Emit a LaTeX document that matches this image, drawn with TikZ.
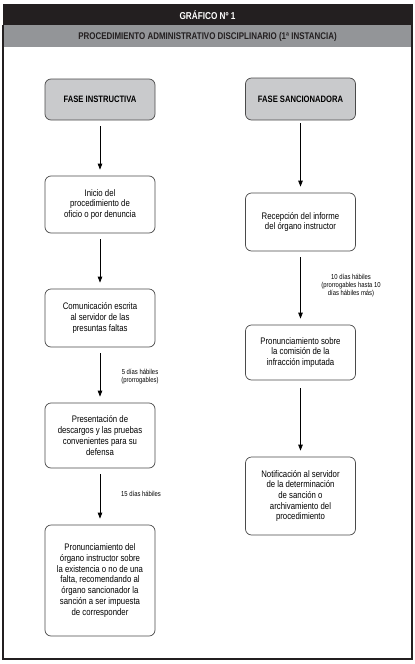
\documentclass[tikz,border=0pt]{standalone}
\usepackage{fontspec}
\setmainfont{Liberation Sans}[FakeStretch=0.82]
\usetikzlibrary{arrows.meta}
\definecolor{barblack}{HTML}{231F20}
\definecolor{bargray}{HTML}{939598}
\definecolor{phasegray}{HTML}{C9CACC}
\definecolor{boxline}{HTML}{4A4A4A}
\begin{document}
\begin{tikzpicture}[x=1pt,y=-1pt,
  stepbox/.style={draw=boxline,line width=0.7pt,rounded corners=6pt,fill=white,
    minimum width=110pt,align=center,font=\fontsize{9.5}{10.7}\selectfont,inner sep=2pt},
  phasebox/.style={stepbox,fill=phasegray,font=\fontsize{9.3}{10}\selectfont\bfseries},
  lbl/.style={align=center,font=\fontsize{7.2}{8.4}\selectfont,inner sep=0pt},
  arr/.style={-{Triangle[length=6pt,width=4.5pt]},line width=0.8pt,black,shorten <=6pt,shorten >=6pt}]
\useasboundingbox (0,0) rectangle (415,664);
% header bars
\fill[barblack] (3,4) rectangle (413,25);
\fill[bargray] (3,25) rectangle (412,47);
\draw[barblack,line width=1.3pt] (3,25) -- (3,659) -- (412,659) -- (412,25);
\node[text=white,font=\fontsize{10}{11}\selectfont\bfseries] (title) at (207.5,15) {GRÁFICO Nº 1};
\node[text=barblack,font=\fontsize{9.7}{11}\selectfont\bfseries] (subtitle) at (207.5,36.5) {PROCEDIMIENTO ADMINISTRATIVO DISCIPLINARIO (1ª INSTANCIA)};
% left column
\node[phasebox,minimum height=41pt] (fi) at (100,99.5) {FASE INSTRUCTIVA};
\node[stepbox,minimum height=57pt] (inicio) at (100,204.5) {Inicio del\\procedimiento de\\oficio o por denuncia};
\node[stepbox,minimum height=58pt] (comun) at (100,318) {Comunicación escrita\\al servidor de las\\presuntas faltas};
\node[stepbox,minimum height=65pt] (pres) at (100,435.5) {Presentación de\\descargos y las pruebas\\convenientes para su\\defensa};
\node[stepbox,minimum height=111pt] (pron) at (100,580.5) {Pronunciamiento del\\órgano instructor sobre\\la existencia o no de una\\falta, recomendando al\\órgano sancionador la\\sanción a ser impuesta\\de corresponder};
% right column
\node[phasebox,minimum height=42pt] (fs) at (300.5,99) {FASE SANCIONADORA};
\node[stepbox,minimum height=58pt] (recep) at (300.5,222) {Recepción del informe\\del órgano instructor};
\node[stepbox,minimum height=55pt] (prons) at (300.5,352.5) {Pronunciamiento sobre\\la comisión de la\\infracción imputada};
\node[stepbox,minimum height=78pt] (notif) at (300.5,496) {Notificación al servidor\\de la determinación\\de sanción o\\archivamiento del\\procedimiento};
% arrows
\draw[arr] (fi) -- (inicio);
\draw[arr] (inicio) -- (comun);
\draw[arr] (comun) -- (pres);
\draw[arr] (pres) -- (pron);
\draw[arr,shorten <=3pt] (fs) -- (recep);
\draw[arr] (recep) -- (prons);
\draw[arr,shorten <=8pt] (prons) -- (notif);
% labels
\node[lbl] (l1) at (140,376.5) {5 días hábiles\\(prorrogables)};
\node[lbl] (l2) at (141,494) {15 días hábiles};
\node[lbl] (l3) at (351,285.5) {10 días hábiles\\(prorrogables hasta 10\\días hábiles más)};
\end{tikzpicture}
\end{document}
